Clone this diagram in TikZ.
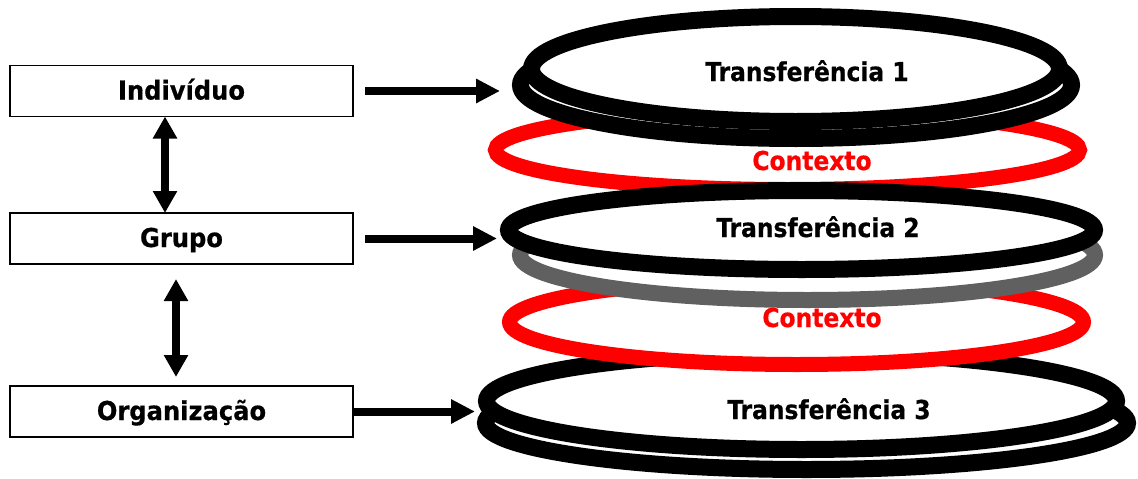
\documentclass[tikz,border=0pt]{standalone}
\usepackage{fontspec}
\setmainfont{DejaVu Sans}[FakeStretch=0.93,FakeBold=0.6]
\newfontfamily\condfont{DejaVu Sans Condensed}[FakeBold=0.6]
\usetikzlibrary{arrows.meta,shapes.geometric,calc}
\definecolor{ringgray}{RGB}{96,96,96}
\begin{document}
\begin{tikzpicture}[x=1pt,y=-1pt,
  box/.style={draw, line width=1.5pt, minimum width=343pt, minimum height=51pt,
    inner sep=0pt, outer sep=0pt, text height=17pt, text depth=0pt,
    font=\fontsize{26}{31}\selectfont\bfseries},
  ring/.style={ellipse, draw=black, fill=white, line width=17pt, inner sep=0pt, outer sep=0pt},
  redring/.style={ring, draw=red, line width=15pt},
  grayring/.style={ring, draw=ringgray, line width=16pt},
  tlab/.style={anchor=base, inner sep=0pt, font=\condfont\fontsize{26}{31}\selectfont\bfseries},
  harr/.style={line width=8pt, -{Triangle[length=24pt,width=23pt]}},
  varr/.style={line width=8pt, {Triangle[length=22pt,width=23pt]}-{Triangle[length=22pt,width=23pt]}}
]
\useasboundingbox (0,0) rectangle (1138,479);

% rings, back to front
\node[ring, minimum width=642pt, minimum height=93pt] (s3b) at (806.5,423) {};
\node[ring, minimum width=630pt, minimum height=97pt] (s3f) at (801.5,401) {};
\node[redring, minimum width=574pt, minimum height=85pt] (r2) at (796.5,322) {};
\node[redring, minimum width=584pt, minimum height=79pt] (r1) at (787.5,150) {};
\node[grayring, minimum width=575pt, minimum height=90pt] (s2g) at (807.5,255) {};
\node[ring, minimum width=586pt, minimum height=79pt] (s2f) at (801.5,230) {};
\node[ring, minimum width=551pt, minimum height=107pt] (s1b) at (796,85) {};
\node[ring, minimum width=528pt, minimum height=105pt] (s1f) at (795.5,69) {};

% ring labels
\node[tlab] (t1) at (807,81) {Transferência 1};
\node[tlab, text=red] (c1) at (812,170) {Contexto};
\node[tlab] (t2) at (818,237) {Transferência 2};
\node[tlab, text=red] (c2) at (822,327) {Contexto};
\node[tlab] (t3) at (829,419) {Transferência 3};

% boxes
\node[box] (ind) at (181.5,91) {Indivíduo};
\node[box] (grp) at (181.5,238.5) {Grupo};
\node[box] (org) at (181.5,411.5) {Organização};

% arrows
\draw[harr, shorten >=20.5pt] ([xshift=12pt]ind.east) -- (ind.east -| s1b.west);
\draw[harr, shorten >=11.5pt] ([xshift=12pt]grp.east) -- (grp.east -| s2f.west);
\draw[harr, shorten >=11.5pt] (org.east) -- (org.east -| s3f.west);
\draw[varr] ([xshift=-16.5pt]ind.south) -- ([xshift=-16.5pt]grp.north);
\draw[varr, shorten <=15pt, shorten >=9pt] ([xshift=-5.5pt]grp.south) -- ([xshift=-5.5pt]org.north);
\end{tikzpicture}
\end{document}
